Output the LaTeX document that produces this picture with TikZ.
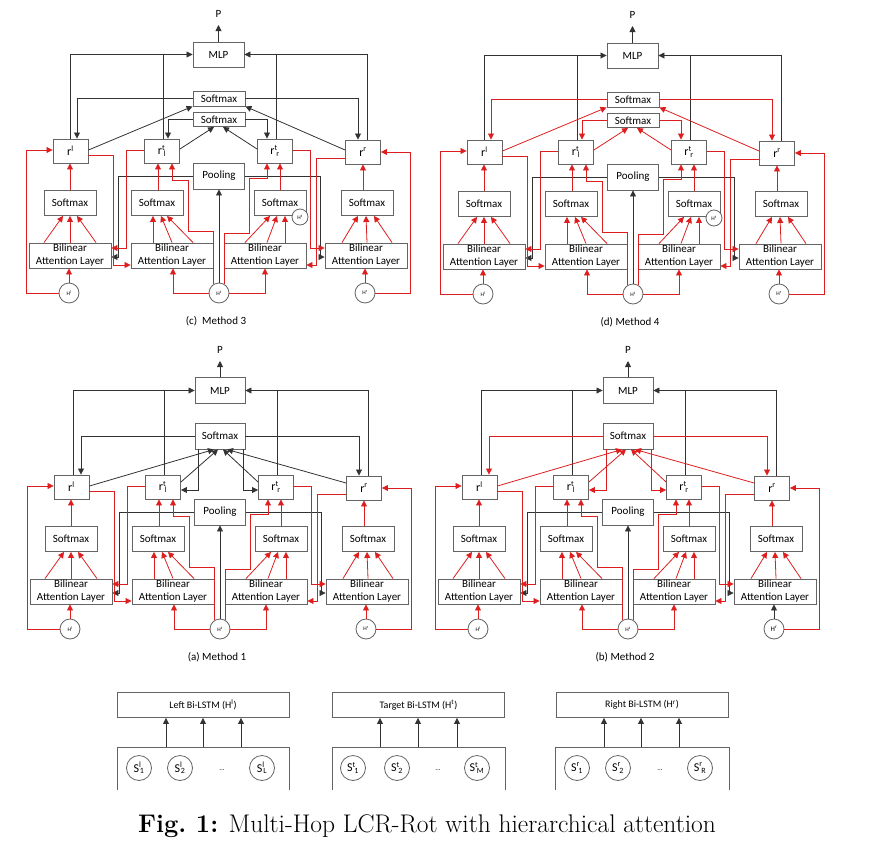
\documentclass[tikz,border=0pt]{standalone}
\usepackage{fontspec}
\newfontfamily\calib{Carlito}
\usetikzlibrary{arrows.meta}
\definecolor{rd}{RGB}{222,30,30}
\definecolor{bk}{RGB}{50,50,50}
\definecolor{bx}{RGB}{100,100,100}
\tikzset{
  box/.style={draw=bx, line width=0.9pt, inner sep=0pt, align=center, font=\calib\fontsize{11}{13}\selectfont},
  rbox/.style={box, minimum width=35pt, minimum height=24pt, font=\calib\fontsize{12}{13}\selectfont},
  smbox/.style={box, minimum width=52pt, minimum height=25pt},
  balbox/.style={box, minimum width=82pt, minimum height=25pt},
  hc/.style={draw=bx, line width=0.8pt, circle, minimum size=20pt, inner sep=0pt, fill=white, font=\calib\fontsize{5.5}{6}\selectfont},
  blk/.style={draw=bk, line width=0.8pt},
  rdl/.style={draw=rd, line width=0.8pt},
  arw/.style={-{Triangle[length=6pt,width=6pt]}},
  lbl/.style={font=\calib\fontsize{11}{13}\selectfont, inner sep=1pt},
  lstm/.style={box, minimum width=172pt, minimum height=25pt, font=\calib\fontsize{10}{12}\selectfont},
  sc/.style={draw=bx, line width=0.8pt, circle, minimum size=25pt, inner sep=0pt, font=\calib\fontsize{12}{13}\selectfont},
}
\newcommand\sts[2]{\textsuperscript{#1}\kern-0.12em\textsubscript{#2}}
\newcommand\lowerpart[2]{%
  \node[rbox] (rL) at (70.5,151) {r\textsuperscript{l}};
  \node[rbox] (rTL) at (162,151) {r\sts{t}{l}};
  \node[rbox] (rTR) at (275,151) {r\sts{t}{r}};
  \node[rbox] (rR) at (363,152) {r\textsuperscript{r}};
  \node[box, minimum width=51pt, minimum height=26pt] (pool) at (219,176) {Pooling};
  \node[smbox] (s1) at (70,203) {Softmax};
  \node[smbox] (s2) at (157,203) {Softmax};
  \node[smbox] (s3) at (280,203) {Softmax};
  \node[smbox] (s4) at (367,203) {Softmax};
  \node[balbox] (b1) at (70,255.5) {Bilinear\\Attention Layer};
  \node[balbox] (b2) at (172,255.5) {Bilinear\\Attention Layer};
  \node[balbox] (b3) at (265,255.5) {Bilinear\\Attention Layer};
  \node[balbox] (b4) at (366,255.5) {Bilinear\\Attention Layer};
  \node[hc] (hl) at (69,293) {H\textsuperscript{l}};
  \node[hc] (ht) at (219,293) {H\textsuperscript{t}};
  \node[hc] (hr) at (365,293) {#2};
  % black connectors
  \draw[blk,arw] (pool.west) -| (118,257) -- (b1.east |- 0,257);
  \draw[blk,arw] (pool.east) -| (320,257) -- (b4.west |- 0,257);
  \draw[blk,arw] (ht.north) -- (pool.south);
  % fans
  \foreach \a/\b in {44/63,70/70,96/77} \draw[rdl,arw] (b1.north -| \a,0) -- (s1.south -| \b,0);
  \foreach \a/\b in {153/153,172/161,193/167} \draw[rdl,arw] (b2.north -| \a,0) -- (s2.south -| \b,0);
  \foreach \a/\b in {245/270,267/277,285/285} \draw[rdl,arw] (b3.north -| \a,0) -- (s3.south -| \b,0);
  \foreach \a/\b in {342/358,367/366,392/374} \draw[rdl,arw] (b4.north -| \a,0) -- (s4.south -| \b,0);
  % softmax to r
  \draw[rdl,arw] (s1.north) -- (rL.south -| s1.north);
  \draw[rdl,arw] (s2.north -| 158,0) -- (rTL.south -| 158,0);
  \draw[rdl,arw] (s3.north) -- (rTR.south -| s3.north);
  \draw[rdl,arw] (s4.north -| 363,0) -- (rR.south -| 363,0);
  % hidden states
  \draw[rdl,arw] (hl.north) -- (b1.south -| hl.north);
  \draw[rdl,arw] (hl.west) -| (26,150) -- (rL.west |- 0,150);
  \draw[#1,arw] (hr.north) -- (b4.south -| hr.north);
  \draw[rdl,arw] (hr.east) -| (410,152) -- (rR.east |- 0,152);
  \draw[rdl,arw] (ht.west) -| (b2.south -| 173,0);
  \draw[rdl,arw] (ht.east) -| (b3.south -| 265,0);
  \draw[rdl,arw] (ht.120) |- (188,231) |- (172,180) -- (rTL.south -| 172,0);
  \draw[rdl,arw] (ht.60) |- (249,233) |- (267,178) -- (rTR.south -| 267,0);
  % cross connectors
  \draw[rdl,arw] (rL.east |- 0,155) -| (113,265) -- (b2.west |- 0,265);
  \draw[rdl,arw] (rTL.west |- 0,150) -| (126,248) -- (b1.east |- 0,248);
  \draw[rdl,arw] (rTR.east |- 0,150) -| (310,248) -- (b4.west |- 0,248);
  \draw[rdl,arw] (rR.west |- 0,158) -| (316,265) -- (b3.east |- 0,265);
}
\newcommand\upperA[1]{%
  \node[box, minimum width=51pt, minimum height=25pt] (mlp) at (218.5,54.5) {MLP};
  \node[box, minimum width=52pt, minimum height=15pt] (sa) at (219,98.5) {Softmax};
  \node[box, minimum width=52pt, minimum height=14pt] (sb) at (219,119.5) {Softmax};
  \node[lbl] (p) at (218.5,14) {P};
  \coordinate (pe) at (218.5,25);
  \draw[blk,arw] (mlp.north) -- (pe);
  \draw[blk,arw] (rL.north -| 70,0) |- (mlp.west);
  \draw[blk] (rTL.north -| 163,0) -- (163,0 |- mlp.west);
  \draw[blk,arw] (rR.north -| 367,0) |- (mlp.east);
  \draw[blk] (rTR.north -| 276,0) -- (276,0 |- mlp.east);
  \draw[#1,arw] (sa.west) -| (rL.north -| 77,0);
  \draw[#1,arw] (sa.east) -| (rR.north -| 358,0);
  \draw[#1,arw] (sb.west) -| (rTL.north -| 168,0);
  \draw[#1,arw] (sb.east) -| (rTR.north -| 267,0);
  \draw[#1,arw] (rL.east |- 0,150) -- (sa.south west);
  \draw[#1,arw] (rR.west |- 0,150) -- (sa.south east);
  \draw[#1,arw] (rTL.east |- 0,149) -- (sb.south -| 214,0);
  \draw[#1,arw] (rTR.west |- 0,149) -- (sb.south -| 223,0);
  \node[hc, minimum size=16pt] (hs) at (300,217) {H\textsuperscript{t}};
}
\newcommand\upperB[1]{%
  \node[box, minimum width=50pt, minimum height=26pt] (mlp) at (219,54.5) {MLP};
  \node[box, minimum width=50pt, minimum height=26pt] (sm) at (219,100) {Softmax};
  \node[lbl] (p) at (219,14) {P};
  \coordinate (pe) at (219,25);
  \draw[blk,arw] (mlp.north) -- (pe);
  \draw[blk,arw] (rL.north -| 72,0) |- (mlp.west);
  \draw[blk] (rTL.north -| 163,0) -- (163,0 |- mlp.west);
  \draw[blk,arw] (rR.north -| 367,0) |- (mlp.east);
  \draw[blk] (rTR.north -| 276,0) -- (276,0 |- mlp.east);
  \draw[#1,arw] (sm.west) -| (rL.north -| 80,0);
  \draw[#1,arw] (sm.east) -| (rR.north -| 358,0);
  \draw[#1,arw] (rL.east |- 0,150) -- (sm.south -| 213,0);
  \draw[#1,arw] (rTL.east |- 0,146) -- (sm.south -| 217,0);
  \draw[#1,arw] (rTR.west |- 0,146) -- (sm.south -| 222,0);
  \draw[#1,arw] (rR.west |- 0,147) -- (sm.south -| 226,0);
  \draw[#1,arw] (sm.south -| 197,0) |- (rTL.east |- 0,154);
  \draw[#1,arw] (sm.south -| 242,0) |- (rTR.west |- 0,154);
}
\begin{document}
\begin{tikzpicture}[x=1pt,y=-1pt]
\useasboundingbox (0,0) rectangle (871,849);
% Method 3
\begin{scope}[shift={(0,0)}, name prefix=c-]
  \lowerpart{rdl}{H\textsuperscript{r}}
  \upperA{blk}
  \node[lbl] (cap) at (216,321) {(c)\ \ Method 3};
\end{scope}
% Method 4
\begin{scope}[shift={(414,1)}, name prefix=d-]
  \lowerpart{rdl}{H\textsuperscript{r}}
  \upperA{rdl}
  \node[lbl] (cap) at (216,321) {(d) Method 4};
\end{scope}
% Method 1
\begin{scope}[shift={(1,336)}, name prefix=a-]
  \lowerpart{rdl}{H\textsuperscript{r}}
  \upperB{blk}
  \node[lbl] (cap) at (216,321) {(a) Method 1};
\end{scope}
% Method 2
\begin{scope}[shift={(409,336)}, name prefix=b-]
  \lowerpart{blk}{\fontsize{7}{8}\selectfont H\textsuperscript{r}}
  \upperB{rdl}
  \node[lbl] (cap) at (216,321) {(b) Method 2};
\end{scope}
% Bi-LSTM layer
\node[lstm] (lb) at (203,705) {Left Bi-LSTM (H\textsuperscript{l})};
\node[lstm] (tb) at (418.5,705) {Target Bi-LSTM (H\textsuperscript{t})};
\node[lstm] (rb) at (642,705) {Right Bi-LSTM (H\textsuperscript{r})};
\draw[draw=bx, line width=0.9pt] (117,790) |- (289,747) -- (289,790);
\draw[draw=bx, line width=0.9pt] (332,790) |- (505,747) -- (505,790);
\draw[draw=bx, line width=0.9pt] (555,790) |- (729,747) -- (729,790);
\foreach \x [count=\i] in {166,203,241} {\coordinate (lq\i) at (\x,747); \draw[blk,arw] (lq\i) -- (lb.south -| lq\i);}
\foreach \x [count=\i] in {380,418,457} {\coordinate (tq\i) at (\x,747); \draw[blk,arw] (tq\i) -- (tb.south -| tq\i);}
\foreach \x [count=\i] in {604,641,679} {\coordinate (rq\i) at (\x,747); \draw[blk,arw] (rq\i) -- (rb.south -| rq\i);}
\node[sc] (sl1) at (139,768) {S\sts{l}{1}};
\node[sc] (sl2) at (180,768) {S\sts{l}{2}};
\node[lbl, font=\calib\fontsize{7}{8}\selectfont] (sld) at (222,770) {...};
\node[sc] (sl3) at (262,768) {S\sts{l}{L}};
\node[sc] (st1) at (353,768) {S\sts{t}{1}};
\node[sc] (st2) at (397,768) {S\sts{t}{2}};
\node[lbl, font=\calib\fontsize{7}{8}\selectfont] (std) at (438,770) {...};
\node[sc] (st3) at (477,768) {S\sts{t}{M}};
\node[sc] (sr1) at (577,768) {S\sts{r}{1}};
\node[sc] (sr2) at (618,768) {S\sts{r}{2}};
\node[lbl, font=\calib\fontsize{7}{8}\selectfont] (srd) at (660,770) {...};
\node[sc] (sr3) at (700,768) {S\sts{r}{R}};
% caption
\node[font=\fontsize{25.5}{30}\selectfont, inner sep=0pt] (fig) at (427,826) {\textbf{Fig.\ 1:} Multi-Hop LCR-Rot with hierarchical attention};
\end{tikzpicture}
\end{document}
